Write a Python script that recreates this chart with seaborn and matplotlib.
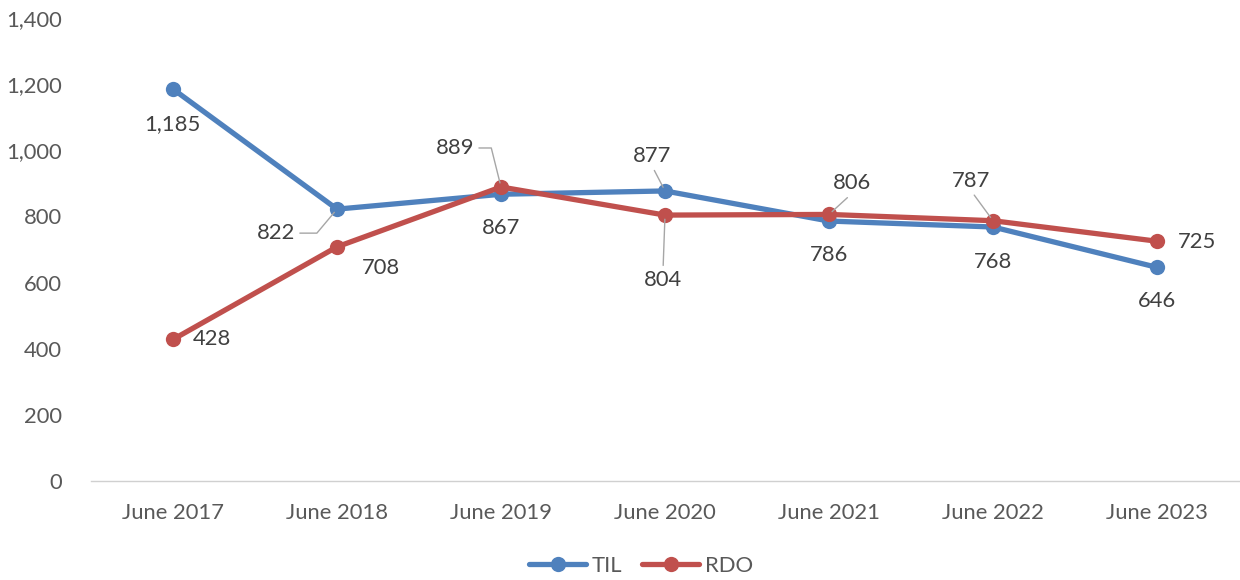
import matplotlib
matplotlib.use("Agg")
import matplotlib.pyplot as plt
import seaborn as sns
import pandas as pd

categories = ["June 2017", "June 2018", "June 2019", "June 2020", "June 2021", "June 2022", "June 2023"]
til = [1185, 822, 867, 877, 786, 768, 646]
rdo = [428, 708, 889, 804, 806, 787, 725]
series_names = ["TIL", "RDO"]
colors = {"TIL": "#4f81bd", "RDO": "#c0504d"}
yticks = [0, 200, 400, 600, 800, 1000, 1200, 1400]

sns.set_theme(style="white")
plt.rcParams["font.family"] = ["Lato", "DejaVu Sans"]

df = pd.DataFrame({
    "period": categories * 2,
    "value": til + rdo,
    "series": [series_names[0]] * len(til) + [series_names[1]] * len(rdo),
})

fig = plt.figure(figsize=(12.4, 5.8), dpi=100)
ax = fig.add_axes([0.0734, 0.1707, 0.9258, 0.7983])

sns.lineplot(data=df, x="period", y="value", hue="series", palette=colors,
             marker="o", markersize=11, markeredgewidth=0, linewidth=3.8,
             sort=False, ax=ax)

handles, labels = ax.get_legend_handles_labels()
if ax.get_legend() is not None:
    ax.get_legend().remove()

ax.set_xlim(-0.5, len(categories) - 0.5)
ax.set_ylim(0, 1400)
ax.set_yticks(yticks)
ax.set_yticklabels([f"{v:,}" for v in yticks])
ax.set_xlabel("")
ax.set_ylabel("")

for s in ["top", "right", "left"]:
    ax.spines[s].set_visible(False)
ax.spines["bottom"].set_color("#d0d0d0")
ax.spines["bottom"].set_linewidth(1.0)

ax.tick_params(axis="y", length=0, pad=21, labelsize=15.8, labelcolor="#595959")
ax.tick_params(axis="x", which="major", length=0, pad=16, labelsize=15.8, labelcolor="#595959")
ax.set_xticks([i - 0.5 for i in range(len(categories) + 1)], minor=True)
ax.tick_params(axis="x", which="minor", length=5, width=1.0, color="#d0d0d0", direction="out")

label_color = "#404040"
lead = dict(arrowstyle="-", color="#a6a6a6", lw=1.0, shrinkA=1, shrinkB=3)

til_offsets = [(-1, -35), (-61, -24), (0, -34), (-13, 35), (0, -34), (0, -35), (0, -34)]
til_leader = [None,
              dict(relpos=(1, 0.5), connectionstyle="angle,angleA=0,angleB=50,rad=0"),
              None,
              dict(relpos=(0.5, 0)),
              None, None, None]
rdo_offsets = [(39, 0), (44, -21), (-46, 39), (-2, -65), (23, 31), (-22, 40), (40, -1)]
rdo_leader = [None, None,
              dict(relpos=(1, 0.5), connectionstyle="angle,angleA=0,angleB=104,rad=0"),
              dict(relpos=(0.5, 1)),
              dict(relpos=(0.5, 0)),
              dict(relpos=(0.5, 0)),
              None]

for vals, offs, leaders in [(til, til_offsets, til_leader), (rdo, rdo_offsets, rdo_leader)]:
    for i, (v, off, ld) in enumerate(zip(vals, offs, leaders)):
        kw = {}
        if ld is not None:
            ap = dict(lead)
            ap.update(ld)
            kw["arrowprops"] = ap
        ax.annotate(f"{v:,}", xy=(i, v), xytext=off, textcoords="offset pixels",
                    ha="center", va="center", fontsize=15.8, color=label_color, **kw)

fig.legend(handles, labels, loc="center", bbox_to_anchor=(0.517, 0.024), ncol=2,
           frameon=False, fontsize=15.8, handlelength=2.6, handletextpad=0.25,
           columnspacing=0.9, labelcolor="#595959")

fig.savefig("out.png", dpi=100)
